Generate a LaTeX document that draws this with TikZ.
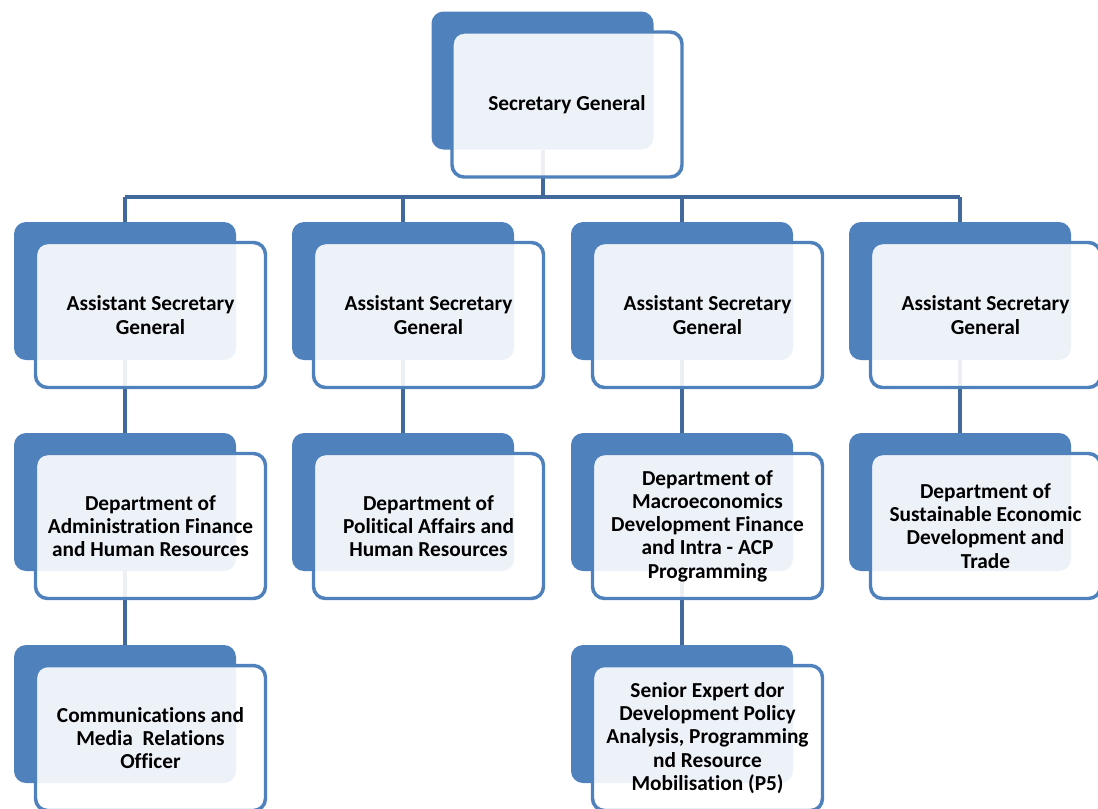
\documentclass[tikz,border=0pt]{standalone}
\usepackage{fontspec}
\setmainfont{Carlito}[Ligatures=NoCommon]
\usetikzlibrary{positioning,backgrounds}
\definecolor{orgblue}{HTML}{4F81BD}
\definecolor{orgline}{HTML}{41699B}
\tikzset{
  backbox/.style={rectangle, rounded corners=9pt, fill=orgblue, draw=none,
    minimum width=166.5pt, minimum height=103.5pt, inner sep=0pt},
  frontbox/.style={rectangle, rounded corners=9pt, draw=orgblue, line width=2.6pt,
    fill=white, fill opacity=0.9, text opacity=1, minimum width=172.5pt,
    minimum height=108.75pt, align=center, inner sep=2pt,
    font=\fontsize{16}{17.4}\selectfont\bfseries},
  link/.style={draw=orgline, line width=3pt},
}

\begin{document}
\begin{tikzpicture}[x=0.75pt, y=-0.75pt]
\useasboundingbox (0,0) rectangle (1098,808);
% top level
\node[backbox] (sgback) at (542.5,80.5) {};
\node[frontbox] (sg) at (567,104.5) {Secretary General};
% assistant secretaries
\node[backbox] (asgaback) at (125,291) {};
\node[frontbox] (asga) at (150.5,315) {Assistant Secretary\\General};
\node[backbox] (asgbback) at (403,291) {};
\node[frontbox] (asgb) at (428.5,315) {Assistant Secretary\\General};
\node[backbox] (asgcback) at (682,291) {};
\node[frontbox] (asgc) at (707.5,315) {Assistant Secretary\\General};
\node[backbox] (asgdback) at (960,291) {};
\node[frontbox] (asgd) at (985.5,315) {Assistant Secretary\\General};
% departments
\node[backbox] (adminback) at (125,502) {};
\node[frontbox] (admin) at (150.5,526) {Department of\\Administration Finance\\and Human Resources};
\node[backbox] (politback) at (403,502) {};
\node[frontbox] (polit) at (428.5,526) {Department of\\Political Affairs and\\Human Resources};
\node[backbox] (macroback) at (682,502) {};
\node[frontbox] (macro) at (707.5,526) {Department of\\Macroeconomics\\Development Finance\\and Intra - ACP\\Programming};
\node[backbox] (sustback) at (960,502) {};
\node[frontbox] (sust) at (985.5,526) {Department of\\Sustainable Economic\\Development and\\Trade};
% officers
\node[backbox] (commsback) at (125,714) {};
\node[frontbox] (comms) at (150.5,738) {Communications and\\Media~~Relations\\Officer};
\node[backbox] (expertback) at (682,714) {};
\node[frontbox] (expert) at (707.5,738) {Senior Expert dor\\Development Policy\\Analysis, Programming\\nd Resource\\Mobilisation (P5)};
% connectors
\coordinate (bus) at (0,197);
\begin{scope}[on background layer]
\draw[link] (sgback) -- (sgback |- bus);
\draw[link, line width=3.6pt] (asgaback |- bus) -- (asgdback |- bus);
\draw[link] (asgaback |- bus) -- (asgaback);
\draw[link] (asgbback |- bus) -- (asgbback);
\draw[link] (asgcback |- bus) -- (asgcback);
\draw[link] (asgdback |- bus) -- (asgdback);
\draw[link] (asgaback) -- (adminback);
\draw[link] (asgbback) -- (politback);
\draw[link] (asgcback) -- (macroback);
\draw[link] (asgdback) -- (sustback);
\draw[link] (adminback) -- (commsback);
\draw[link] (macroback) -- (expertback);
\end{scope}
\end{tikzpicture}
\end{document}
